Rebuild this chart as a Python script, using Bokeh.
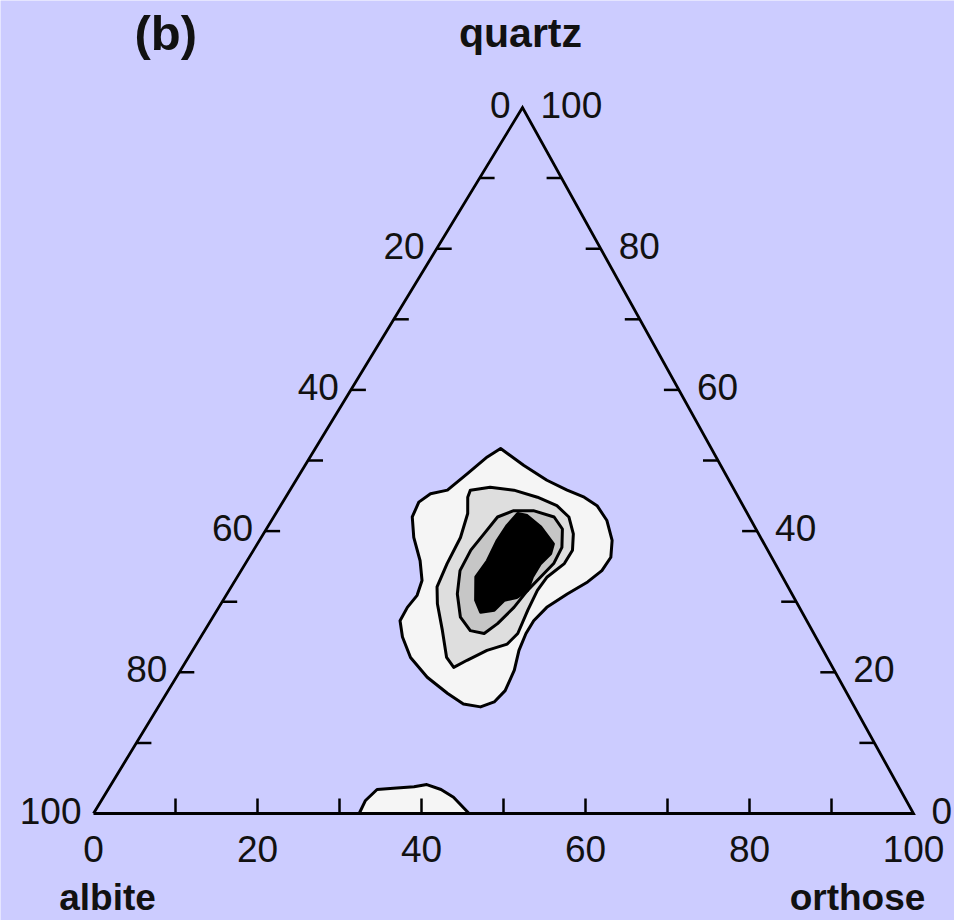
from bokeh.plotting import figure
from bokeh.models import Range1d
from bokeh.core.properties import value
from bokeh.embed import file_html
from bokeh.resources import INLINE

# ---- data: compositions in percent (orthose, quartz); albite = 100 - orthose - quartz ----
outer_orthose = [22.6, 26.7, 30.6, 33.8, 36.4, 38.6, 40.9, 43.0, 44.1, 44.0, 43.1, 41.5, 40.0,
                 39.4, 39.4, 39.8, 40.7, 41.1, 40.6, 39.3, 37.0, 34.3, 30.6, 27.1, 24.6, 23.1,
                 23.0, 23.3, 22.8, 21.1, 18.6, 16.9, 16.6, 17.4, 19.2, 20.4, 21.6]
outer_quartz = [51.7, 49.3, 47.2, 45.8, 44.8, 43.6, 41.5, 38.7, 36.3, 34.4, 32.8, 31.1, 29.2,
                27.3, 25.5, 23.1, 20.3, 17.4, 15.8, 15.1, 15.5, 17.0, 19.3, 22.1, 25.0, 27.3,
                29.2, 30.9, 33.0, 35.8, 39.1, 42.0, 44.1, 45.3, 45.8, 48.1, 50.5]

mid_orthose = [22.0, 24.2, 27.3, 30.7, 33.7, 36.0, 37.8, 38.9, 38.9, 37.8, 37.6, 37.9, 38.4,
               37.9, 35.9, 34.2, 33.1, 31.5, 29.0, 26.4, 25.1, 24.6, 24.3, 23.4, 22.2]
mid_quartz = [45.8, 46.2, 45.8, 44.8, 43.6, 42.0, 39.6, 37.3, 35.4, 33.5, 31.6, 28.8, 25.5,
              24.0, 23.1, 21.7, 20.7, 22.1, 25.9, 29.7, 32.1, 35.4, 39.1, 42.5, 44.8]

inner_orthose = [28.8, 31.2, 34.2, 36.1, 37.4, 37.6, 37.0, 36.4, 36.0, 35.2, 34.3, 32.4, 30.2,
                 28.1, 26.7, 26.5, 26.9, 27.3]
inner_quartz = [42.9, 42.9, 42.0, 40.3, 37.7, 35.4, 33.5, 31.6, 29.2, 26.9, 25.5, 25.9, 27.8,
                31.1, 34.4, 37.3, 39.6, 42.0]

core_orthose = [29.5, 30.8, 33.3, 36.1, 36.5, 36.0, 36.0, 36.4, 35.6, 34.3, 33.8, 32.3, 30.8,
                29.1, 29.3, 29.0, 29.1]
core_quartz = [42.5, 42.2, 40.6, 38.2, 36.8, 35.4, 33.5, 31.6, 30.6, 30.2, 28.8, 28.5, 30.2,
               33.5, 35.8, 38.7, 40.8]

base_orthose = [32.4, 32.2, 32.8, 35.1, 37.1, 38.5, 40.6, 42.7, 45.8]
base_quartz = [0.0, 1.8, 3.4, 3.6, 3.8, 4.1, 3.4, 2.3, 0.0]

minor_ticks = [10, 20, 30, 40, 50, 60, 70, 80, 90]
tick_labels = [0, 20, 40, 60, 80, 100]

# ---- layout of the triangle on the page (y measured upward) ----
W, H = 954, 920
ALBITE_XY = (93.0, 107.0)
ORTHOSE_XY = (913.0, 107.0)
QUARTZ_XY = (522.0, 813.0)
TICK = 15
FONT = value("Liberation Sans")
BG = "#CCCCFF"
INK = "#111111"


def to_xy(orthose, quartz):
    xs, ys = [], []
    for o, q in zip(orthose, quartz):
        a = (100.0 - o - q) / 100.0
        o, q = o / 100.0, q / 100.0
        xs.append(a * ALBITE_XY[0] + o * ORTHOSE_XY[0] + q * QUARTZ_XY[0])
        ys.append(a * ALBITE_XY[1] + o * ORTHOSE_XY[1] + q * QUARTZ_XY[1])
    return xs, ys


p = figure(width=W, height=H, x_range=Range1d(0, W), y_range=Range1d(0, H),
           output_backend="svg", toolbar_location=None, min_border=0,
           background_fill_color=BG, border_fill_color=BG, outline_line_color=None)
p.axis.visible = False
p.grid.visible = False

# density contours
for o, q, fill in [(outer_orthose, outer_quartz, "#F5F5F5"),
                   (mid_orthose, mid_quartz, "#DEDEDE"),
                   (inner_orthose, inner_quartz, "#C6C6C6"),
                   (core_orthose, core_quartz, "#000000"),
                   (base_orthose, base_quartz, "#F5F5F5")]:
    xs, ys = to_xy(o, q)
    p.patch(xs, ys, fill_color=fill, line_color="black", line_width=3, line_join="round")

# triangle frame
tx, ty = to_xy([0, 100, 0, 0], [0, 0, 100, 0])
p.line(tx, ty, line_color="black", line_width=2.8, line_join="miter")

# ticks: bottom (orthose), left (albite), right (quartz), all pointing inward
bx, by = to_xy(minor_ticks, [0] * len(minor_ticks))
p.segment(bx, by, bx, [y + TICK for y in by], line_color="black", line_width=2.5)
lx, ly = to_xy([0] * len(minor_ticks), [100 - a for a in minor_ticks])
p.segment(lx, ly, [x + TICK for x in lx], ly, line_color="black", line_width=2.5)
rx, ry = to_xy([100 - q for q in minor_ticks], minor_ticks)
p.segment(rx, ry, [x - TICK for x in rx], ry, line_color="black", line_width=2.5)

labels = [str(v) for v in tick_labels]
# bottom labels: orthose %
x0, y0 = to_xy(tick_labels, [0] * len(tick_labels))
p.text(x0, [y - 35 for y in y0], text=labels, text_align="center",
       text_baseline="middle", text_font=FONT, text_font_size="37px", text_color=INK)
# left labels: albite %
x1, y1 = to_xy([0] * len(tick_labels), [100 - a for a in tick_labels])
p.text([x - 12 for x in x1], [y + 3 for y in y1], text=labels, text_align="right",
       text_baseline="middle", text_font=FONT, text_font_size="37px", text_color=INK)
# right labels: quartz %
x2, y2 = to_xy([100 - q for q in tick_labels], tick_labels)
p.text([x + 18 for x in x2], [y + 3 for y in y2], text=labels, text_align="left",
       text_baseline="middle", text_font=FONT, text_font_size="37px", text_color=INK)

# end-member names and panel letter
p.text([520], [888], text=["quartz"], text_align="center", text_baseline="alphabetic",
       text_font=FONT, text_font_size="41px", text_font_style="bold", text_color=INK)
p.text([107], [23], text=["albite"], text_align="center", text_baseline="alphabetic",
       text_font=FONT, text_font_size="37px", text_font_style="bold", text_color=INK)
p.text([857], [23], text=["orthose"], text_align="center", text_baseline="alphabetic",
       text_font=FONT, text_font_size="37px", text_font_style="bold", text_color=INK)
p.text([134], [888], text=["(b)"], text_align="left", text_baseline="alphabetic",
       text_font=FONT, text_font_size="49px", text_font_style="bold", text_color=INK)

open("out.html", "w").write(file_html(p, INLINE))
